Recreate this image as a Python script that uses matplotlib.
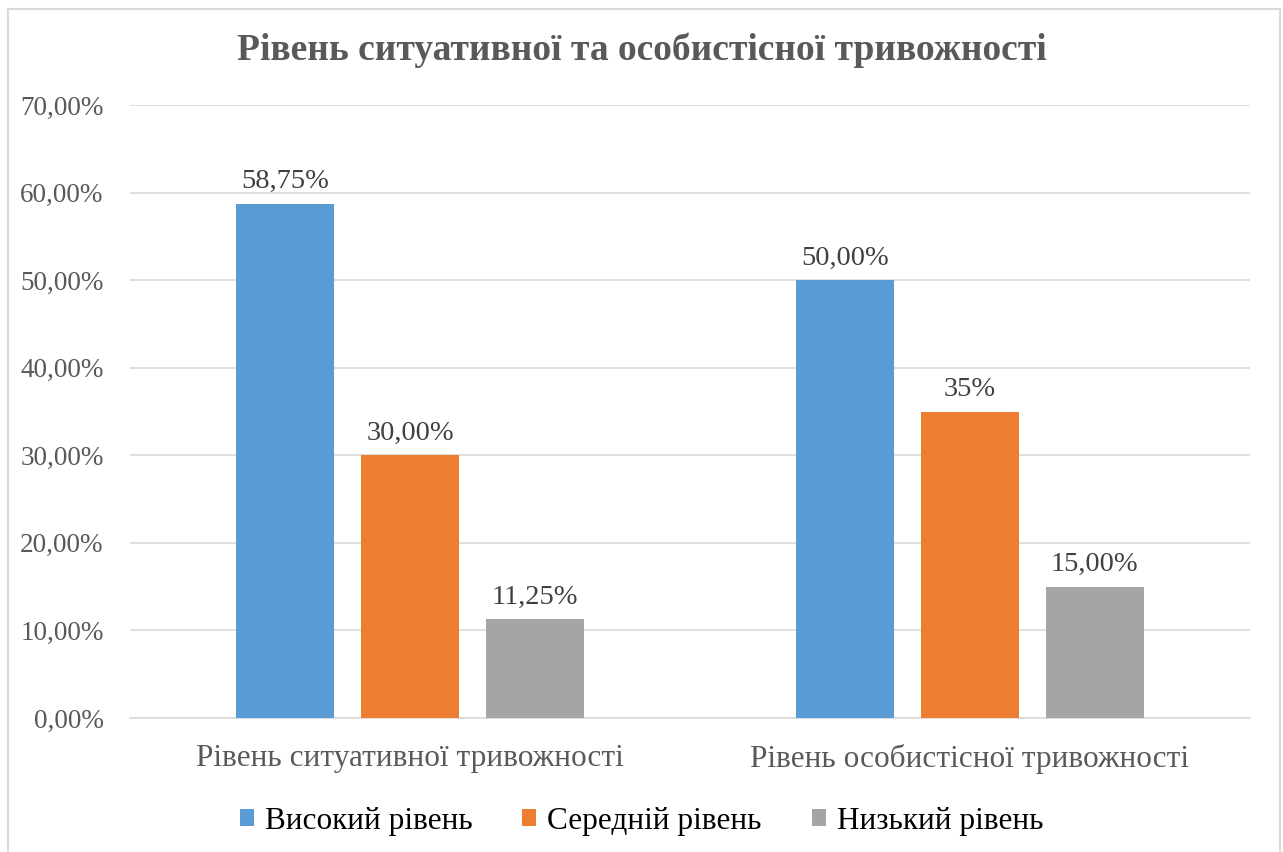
import matplotlib.pyplot as plt
import numpy as np
from matplotlib.patches import Rectangle
from matplotlib.ticker import FuncFormatter

categories = ["Рівень ситуативної тривожності", "Рівень особистісної тривожності"]
series = ["Високий рівень", "Середній рівень", "Низький рівень"]
values = [
    [58.75, 50.00],
    [30.00, 35.00],
    [11.25, 15.00],
]
labels = [
    ["58,75%", "50,00%"],
    ["30,00%", "35%"],
    ["11,25%", "15,00%"],
]
colors = ["#5B9BD5", "#ED7D31", "#A5A5A5"]

plt.rcParams["font.family"] = ["Liberation Serif", "DejaVu Serif"]
grey = "#595959"

fig = plt.figure(figsize=(12.83, 8.52), dpi=100)
ax = fig.add_axes((130 / 1283, 1 - 718 / 852, 1120 / 1283, 613 / 852))

x = np.arange(len(categories))
width = 0.175
step = 0.2225
for i, name in enumerate(series):
    pos = x + (i - 1) * step
    bars = ax.bar(pos, values[i], width, color=colors[i], label=name, zorder=3)
    for b, txt in zip(bars, labels[i]):
        ax.annotate(txt, (b.get_x() + b.get_width() / 2, b.get_height()),
                    xytext=(0, 7), textcoords="offset points",
                    ha="center", va="bottom", fontsize=20.5, color="#404040")

ax.set_xlim(-0.5, 1.5)
ax.set_ylim(0, 70)
ax.set_yticks(np.arange(0, 71, 10))
ax.yaxis.set_major_formatter(FuncFormatter(lambda v, p: f"{v:.2f}%".replace(".", ",")))
ax.set_xticks(x)
ax.set_xticklabels(categories)
ax.tick_params(axis="y", length=0, labelsize=19.5, labelcolor=grey, pad=19)
ax.tick_params(axis="x", length=0, labelsize=22.5, labelcolor=grey, pad=19)
ax.grid(axis="y", color="#D9D9D9", linewidth=1.2, zorder=0)
for s in ["top", "right", "left"]:
    ax.spines[s].set_visible(False)
ax.spines["bottom"].set_color("#D9D9D9")
ax.spines["bottom"].set_linewidth(1.2)

fig.text(0.5, 1 - 50 / 852, "Рівень ситуативної та особистісної тривожності",
         ha="center", va="center", fontsize=27, fontweight="bold", color=grey)

fig.legend(loc="center", bbox_to_anchor=(0.5, 1 - 821 / 852), ncol=3, frameon=False,
           fontsize=22.5, handlelength=0.45, handleheight=0.45, handletextpad=0.35,
           columnspacing=1.6)

fig.patches.append(Rectangle((8 / 1283, -0.01), 1272 / 1283, 1 - 9 / 852 + 0.01,
                             transform=fig.transFigure, fill=False,
                             edgecolor="#D9D9D9", linewidth=1.5))

fig.savefig("out.png", dpi=100)
